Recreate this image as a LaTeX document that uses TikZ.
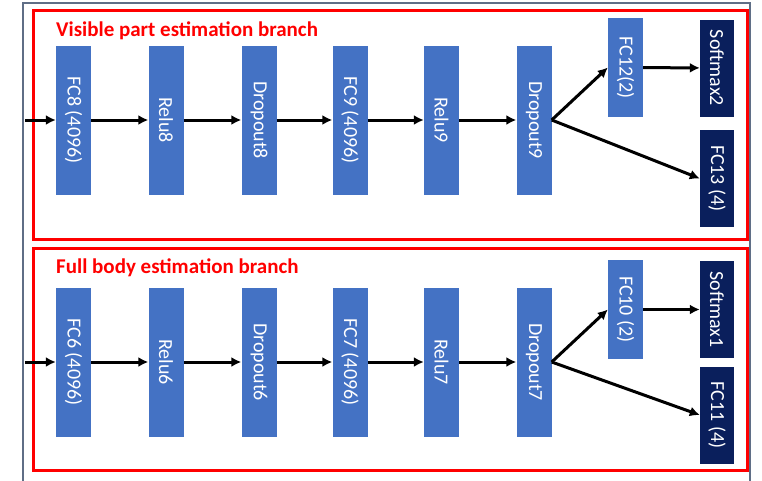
\documentclass[tikz,border=0pt]{standalone}
\usepackage{graphicx}
\usepackage{fontspec}
\setmainfont{Carlito}
\usetikzlibrary{arrows.meta}
\definecolor{layerblue}{HTML}{4472C4}
\definecolor{outnavy}{HTML}{0A1F5C}
\definecolor{framegray}{HTML}{5F6E86}
\definecolor{branchred}{HTML}{FF0000}
\newcommand{\vtext}[1]{\rotatebox{-90}{#1}}
\begin{document}
\begin{tikzpicture}[x=1pt,y=-1pt,
  layer/.style={fill=layerblue, minimum width=35pt, minimum height=149pt,
    inner sep=0pt, text=white, font=\fontsize{20}{20}\selectfont},
  headlayer/.style={layer, minimum height=99pt},
  outlayer/.style={layer, fill=outnavy, minimum width=34pt, minimum height=97pt},
  flow/.style={line width=3pt, -{Latex[length=10pt,width=10pt]}},
  branchbox/.style={draw=branchred, line width=3pt},
  branchtitle/.style={text=branchred, anchor=base west, inner sep=0pt,
    font=\fontsize{21}{21}\selectfont\bfseries}]
\useasboundingbox (0,0) rectangle (762,480);
\fill[white] (0,0) rectangle (762,480);

% outer frame
\draw[framegray, line width=1.4pt] (23,485) -- (23,3) -- (750,3) -- (750,485);

% branch frames
\draw[branchbox] (33,10) rectangle (747,239.5);
\draw[branchbox] (33,248) rectangle (747,470);
\node[branchtitle] (t1) at (56,36) {Visible part estimation branch};
\node[branchtitle] (t2) at (56,273) {Full body estimation branch};

% visible part branch
\coordinate (in1) at (25,120);
\node[layer] (fc8) at (73.5,120) {\vtext{FC8 (4096)}};
\node[layer] (relu8) at (166,120) {\vtext{Relu8}};
\node[layer] (drop8) at (259,120) {\vtext{Dropout8}};
\node[layer] (fc9) at (350,120) {\vtext{FC9 (4096)}};
\node[layer] (relu9) at (441.5,120) {\vtext{Relu9}};
\node[layer] (drop9) at (534,120) {\vtext{Dropout9}};
\node[headlayer] (fc12) at (625.5,67.5) {\vtext{FC12(2)}};
\node[outlayer] (soft2) at (717,68) {\vtext{Softmax2}};
\node[outlayer] (fc13) at (717,178.5) {\vtext{FC13 (4)}};

\draw[flow] (in1) -- (fc8);
\draw[flow] (fc8) -- (relu8);
\draw[flow] (relu8) -- (drop8);
\draw[flow] (drop8) -- (fc9);
\draw[flow] (fc9) -- (relu9);
\draw[flow] (relu9) -- (drop9);
\draw[flow] (drop9.east) -- (fc12.west);
\draw[flow] (drop9.east) -- (fc13.west);
\draw[flow] (fc12) -- (soft2);

% full body branch
\coordinate (in2) at (25,362);
\node[layer] (fc6) at (73.5,362) {\vtext{FC6 (4096)}};
\node[layer] (relu6) at (166,362) {\vtext{Relu6}};
\node[layer] (drop6) at (259,362) {\vtext{Dropout6}};
\node[layer] (fc7) at (350,362) {\vtext{FC7 (4096)}};
\node[layer] (relu7) at (441.5,362) {\vtext{Relu7}};
\node[layer] (drop7) at (534,362) {\vtext{Dropout7}};
\node[headlayer] (fc10) at (625.5,309.5) {\vtext{FC10 (2)}};
\node[outlayer] (soft1) at (717,309.5) {\vtext{Softmax1}};
\node[outlayer] (fc11) at (717,415) {\vtext{FC11 (4)}};

\draw[flow] (in2) -- (fc6);
\draw[flow] (fc6) -- (relu6);
\draw[flow] (relu6) -- (drop6);
\draw[flow] (drop6) -- (fc7);
\draw[flow] (fc7) -- (relu7);
\draw[flow] (relu7) -- (drop7);
\draw[flow] (drop7.east) -- (fc10.west);
\draw[flow] (drop7.east) -- (fc11.west);
\draw[flow] (fc10) -- (soft1);
\end{tikzpicture}
\end{document}
